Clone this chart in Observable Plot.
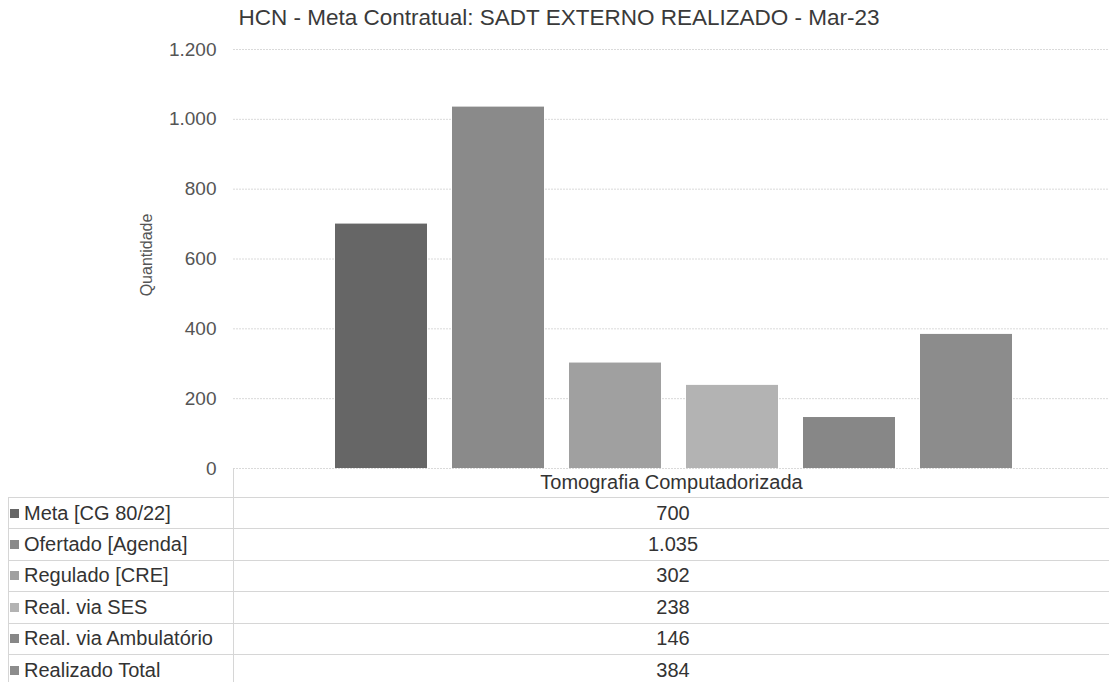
<!DOCTYPE html>
<html>
<head>
<meta charset="utf-8">
<script src="https://cdn.jsdelivr.net/npm/d3@7"></script>
<script src="https://cdn.jsdelivr.net/npm/@observablehq/plot@0.6"></script>
<style>
  html, body { margin: 0; padding: 0; background: #fff; }
  #wrap { position: relative; width: 1109px; height: 682px; overflow: hidden; background: #fff;
          font-family: "Liberation Sans", Arial, sans-serif; }
  #title { position: absolute; left: 0; top: 5px; width: 1118px; text-align: center;
           font-size: 22.5px; color: #3a3a3a; }
  #chart { position: absolute; left: 0; top: 0; }
  .cell { position: absolute; box-sizing: border-box; color: #333; font-size: 20px;
          display: flex; align-items: center; white-space: nowrap; }
  .sw { display: inline-block; width: 9px; height: 9px; margin: 0 5px 0 0; flex: none; }
</style>
</head>
<body>
<div id="wrap">
  <div id="chart"></div>
  <div id="title"></div>
  <div id="table"></div>
</div>
<script>
const titleText = "HCN - Meta Contratual: SADT EXTERNO REALIZADO - Mar-23";
const category = "Tomografia Computadorizada";
const series = ["Meta [CG 80/22]", "Ofertado [Agenda]", "Regulado [CRE]", "Real. via SES", "Real. via Ambulatório", "Realizado Total"];
const values = [700, 1035, 302, 238, 146, 384];
const grays = ["#666666", "#8a8a8a", "#a0a0a0", "#b3b3b3", "#878787", "#8c8c8c"];
const yTicks = [0, 200, 400, 600, 800, 1000, 1200];
const yLabel = "Quantidade";

const rows = series.map((s, i) => ({serie: s, valor: values[i]}));
const fmt = d3.formatLocale({decimal: ",", thousands: ".", grouping: [3], currency: ["R$", ""]}).format(",d");

document.getElementById("title").textContent = titleText;

const W = 1109, H = 470;
const plot = Plot.plot({
  width: W,
  height: H,
  marginTop: 49,
  marginBottom: 2,
  marginLeft: 233,
  marginRight: 0,
  style: {fontFamily: "'Liberation Sans', Arial, sans-serif", fontSize: "19px", background: "transparent", overflow: "visible"},
  x: {domain: series, range: [236, 1112], paddingInner: 0.21, paddingOuter: 0.83, axis: null},
  y: {domain: [0, 1200], label: null},
  color: {domain: series, range: grays},
  marks: [
    Plot.gridY(yTicks, {stroke: "#dadada", strokeOpacity: 1, strokeDasharray: "2,1"}),
    Plot.axisY(yTicks, {tickSize: 0, tickPadding: 17, tickFormat: fmt, color: "#555", fontSize: 19, label: null}),
    Plot.barY(rows, {x: "serie", y: "valor", fill: "serie"}),
    Plot.text([yLabel], {frameAnchor: "left", textAnchor: "middle", rotate: -90, dx: -87, dy: -4, fill: "#555", fontSize: 16})
  ]
});
document.getElementById("chart").appendChild(plot);

// data table below the plot
const table = document.getElementById("table");
const border = "1px solid #d6d6d6";
const head = document.createElement("div");
head.className = "cell";
Object.assign(head.style, {left: "233px", top: "468px", width: "876px", height: "29px",
  borderLeft: border, justifyContent: "center"});
head.textContent = category;
table.appendChild(head);

const top0 = 497, rh = 31.4;
series.forEach((s, i) => {
  const y = top0 + i * rh;
  const lab = document.createElement("div");
  lab.className = "cell";
  Object.assign(lab.style, {left: "8px", top: y + "px", width: "226px", height: (rh + 1) + "px",
    border: border, paddingLeft: "1px"});
  const sw = document.createElement("span");
  sw.className = "sw";
  sw.style.background = grays[i];
  lab.appendChild(sw);
  lab.appendChild(document.createTextNode(s));
  table.appendChild(lab);
  const val = document.createElement("div");
  val.className = "cell";
  Object.assign(val.style, {left: "233px", top: y + "px", width: "880px", height: (rh + 1) + "px",
    borderTop: border, borderBottom: border, justifyContent: "center"});
  val.textContent = fmt(values[i]);
  table.appendChild(val);
});
</script>
</body>
</html>
